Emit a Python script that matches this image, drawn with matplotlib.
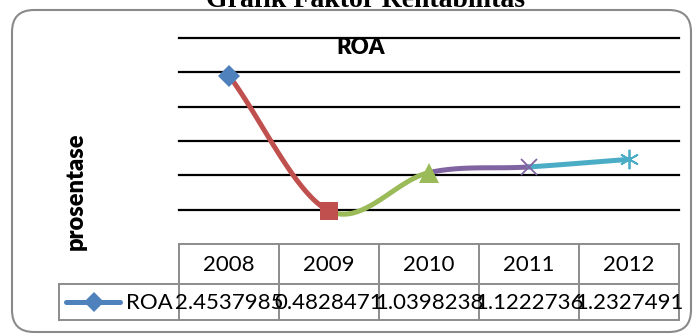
import numpy as np
import matplotlib
matplotlib.use("Agg")
import matplotlib.pyplot as plt
from matplotlib.patches import FancyBboxPatch

# ROA per tahun (persen)
years = ["2008", "2009", "2010", "2011", "2012"]
roa = [2.4537985, 0.4828471, 1.0398238, 1.1222736, 1.2327491]
roa_text = ["2.4537985", "0.4828471", "1.0398238", "1.1222736", "1.2327491"]

seg_colors = ["#C0504D", "#9BBB59", "#8064A2", "#4BACC6"]
pt_colors = ["#4F81BD", "#C0504D", "#9BBB59", "#8064A2", "#4BACC6"]
pt_markers = ["D", "s", "^", "x", (6, 2, 0)]
pt_sizes = [11, 13, 14, 12, 14]

W, H = 694, 336
plt.rcParams["font.family"] = ["Lato", "DejaVu Sans"]

fig = plt.figure(figsize=(W / 100, H / 100), dpi=100)

# background layer in pixel units (y down)
bg = fig.add_axes([0, 0, 1, 1], zorder=0)
bg.set_xlim(0, W)
bg.set_ylim(H, 0)
bg.axis("off")

ax = fig.add_axes([179 / W, 1 - 244 / H, 500 / W, 206 / H], zorder=1)
ax.patch.set_alpha(0)
ax.set_xlim(-0.5, len(years) - 0.5)
ax.set_ylim(0, 3)
ax.set_yticks(np.arange(0.5, 3.01, 0.5))
ax.yaxis.grid(True, color="black", lw=1.6)
for gl in ax.get_ygridlines():
    gl.set_clip_on(False)
ax.tick_params(length=0, labelleft=False, labelbottom=False)
ax.set_xticks([])
for s in ax.spines.values():
    s.set_visible(False)


def hermite(x, y):
    # smooth curve pieces, one per pair of neighbouring points
    x = np.asarray(x, float)
    y = np.asarray(y, float)
    n = len(x)
    m = np.zeros(n)
    for i in range(n):
        a = max(i - 1, 0)
        b = min(i + 1, n - 1)
        m[i] = (y[b] - y[a]) / (x[b] - x[a])
    pieces = []
    t = np.linspace(0, 1, 40)
    h00 = 2 * t**3 - 3 * t**2 + 1
    h10 = t**3 - 2 * t**2 + t
    h01 = -2 * t**3 + 3 * t**2
    h11 = t**3 - t**2
    for i in range(n - 1):
        dx = x[i + 1] - x[i]
        xs = x[i] + t * dx
        ys = h00 * y[i] + h10 * dx * m[i] + h01 * y[i + 1] + h11 * dx * m[i + 1]
        pieces.append((xs, ys))
    return pieces


xpos = np.arange(len(years))
for (xs, ys), c in zip(hermite(xpos, roa), seg_colors):
    ax.plot(xs, ys, color=c, lw=3.6, solid_capstyle="round", clip_on=False, zorder=2)
for i in range(len(years)):
    mk = pt_markers[i]
    thin = mk in ("x",) or isinstance(mk, tuple)
    ax.plot(xpos[i], roa[i], marker=mk, ms=pt_sizes[i], color=pt_colors[i],
            mec=pt_colors[i], mew=1.3 if thin else 0, ls="none", clip_on=False, zorder=3)

# outer frame
bg.add_patch(FancyBboxPatch((12, 10), 679, 322, boxstyle="round,pad=0,rounding_size=22",
                            fc="white", ec="#8a8a8a", lw=1.5))

fig.text(365 / W, 1 - 7 / H, "Grafik Faktor Rentabilitas", ha="center", va="baseline",
         family="Liberation Serif", fontweight="bold", fontsize=20)
bg.text(361, 48, "ROA", ha="center", va="center", fontweight="heavy", fontsize=16)
bg.text(76, 191, "prosentase", ha="center", va="center", rotation=90,
        fontweight="heavy", fontsize=17)

# data table under the plot
def col_px(v):
    return ax.transData.transform((v, 0))[0]

gray = "#8c8c8c"
top, mid, bot = 244, 284, 320
left = 59
edges = [col_px(i - 0.5) for i in range(len(years) + 1)]
bg.plot([edges[0], edges[-1]], [top, top], color=gray, lw=1.4)
bg.plot([left, edges[-1]], [mid, mid], color=gray, lw=1.4)
bg.plot([left, edges[-1]], [bot, bot], color=gray, lw=1.4)
bg.plot([left, left], [mid, bot], color=gray, lw=1.4)
for e in edges:
    bg.plot([e, e], [top, bot], color=gray, lw=1.4)

for i, y in enumerate(years):
    bg.text(col_px(i), (top + mid) / 2 + 1, y, ha="center", va="center", fontsize=16)
for i, s in enumerate(roa_text):
    bg.text(col_px(i), (mid + bot) / 2 + 1, s, ha="center", va="center", fontsize=16)

bg.plot([66, 120], [302, 302], color=pt_colors[0], lw=3.6, solid_capstyle="round")
bg.plot([94], [302], marker="D", ms=10, color=pt_colors[0], mew=0)
bg.text(126, 303, "ROA", ha="left", va="center", fontsize=16)

fig.savefig("out.png", dpi=100)
